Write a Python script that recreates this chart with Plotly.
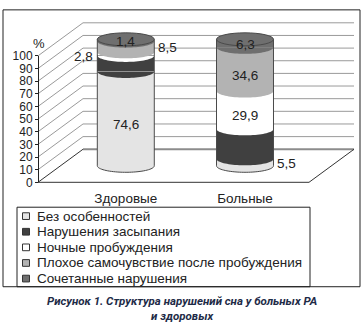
import numpy as np
import plotly.graph_objects as go

# ---- data -------------------------------------------------------------
categories = ["Здоровые", "Больные"]
series_names = [
    "Без особенностей",
    "Нарушения засыпания",
    "Ночные пробуждения",
    "Плохое самочувствие после пробуждения",
    "Сочетанные нарушения",
]
healthy = [74.6, 12.7, 2.8, 8.5, 1.4]
patients = [5.5, 23.7, 29.9, 34.6, 6.3]
y_ticks = list(range(0, 101, 10))
caption = "Рисунок 1. Структура нарушений сна у больных РА<br>и здоровых"

# ---- styles -----------------------------------------------------------
colors = ["#e4e4e4", "#404040", "#ffffff", "#b3b3b3", "#6f6f6f"]
# where each value label sits: centre of band, left or right of the cylinder
label_place = [
    ["inside", None, "left", "right", "inside"],
    ["right", None, "inside", "inside", "inside"],
]
FONT = "Liberation Sans"
TXT = "#222222"
OUTLINE = "#4a4a4a"
GRID = "#9a9a9a"

# ---- geometry (pixels of the page) -----------------------------------
W, H = 363, 333
PXU = 1.32          # px per percent
CX0, CXU = 125.8, 119.2   # px of category 0, px per category step
Y0PX = 165.75       # px of value 0 in the mid-depth plane
DX, DY = 22.5, 17.25       # half depth of the box
BAR_W = 0.478
ELL_B = 6.8 / PXU   # vertical radius of cylinder ellipses (data units)

xr = [-0.8, 1.95]
yr = [-14, 120]
xdom = [(CX0 + CXU * xr[0]) / W, (CX0 + CXU * xr[1]) / W]
ydom = [(H - (Y0PX - PXU * yr[0])) / H, (H - (Y0PX - PXU * yr[1])) / H]

ddx, ddy = DX / CXU, DY / PXU
xl_mid = (60.5 - CX0) / CXU
xr_mid = (331.5 - CX0) / CXU
FL, BL = xl_mid - ddx, xl_mid + ddx
FR, BR = xr_mid - ddx, xr_mid + ddx

front_px0 = Y0PX + DY
y2dom = [(H - front_px0) / H, (H - (front_px0 - PXU * 100)) / H]

fig = go.Figure()

# stacked cylinder bodies
data_by_cat = [healthy, patients]
for s, name in enumerate(series_names):
    fig.add_trace(go.Bar(
        x=[0, 1], y=[healthy[s], patients[s]], name=name,
        width=BAR_W, marker=dict(color=colors[s], line=dict(width=0)),
        showlegend=False, hoverinfo="skip",
    ))

# carrier for the front value axis
fig.add_trace(go.Scatter(x=[0], y=[0], xaxis="x", yaxis="y2", mode="markers",
                         marker=dict(opacity=0), showlegend=False, hoverinfo="skip"))

shapes = []


def line(x0, y0, x1, y1, color, width=1, layer="below"):
    shapes.append(dict(type="line", xref="x", yref="y", x0=x0, y0=y0, x1=x1, y1=y1,
                       line=dict(color=color, width=width), layer=layer))


# box walls: left-wall diagonals, back-wall grid, floor edges
for v in y_ticks:
    line(FL, v - ddy, BL, v + ddy, "#333333" if v == 0 else GRID)
for v in y_ticks[1:]:
    line(BL, v + ddy, BR, v + ddy, GRID)
line(BL, ddy, BR, ddy, "#8c8c8c", 2)
line(FL, -ddy, FR, -ddy, "#333333")
line(FR, -ddy, BR, ddy, "#333333")


def half_ellipse(cx, cy, closed):
    t = np.linspace(np.pi, 2 * np.pi, 40)
    xs = cx + BAR_W / 2 * np.cos(t)
    ys = cy + ELL_B * np.sin(t)
    p = "M" + "L".join(f"{a:.5f},{b:.5f}" for a, b in zip(xs, ys))
    return p + ("Z" if closed else "")


# curved fronts of each band, bottom to top
for i, vals in enumerate(data_by_cat):
    base = 0.0
    for s, v in enumerate(vals):
        shapes.append(dict(type="path", xref="x", yref="y", path=half_ellipse(i, base, True),
                           fillcolor=colors[s], line=dict(width=0), layer="above"))
        base += v
    total = base
    a = BAR_W / 2
    shapes.append(dict(type="path", xref="x", yref="y", path=half_ellipse(i, 0, False),
                       fillcolor="rgba(0,0,0,0)", line=dict(color=OUTLINE, width=1), layer="above"))
    line(i - a, 0, i - a, total, OUTLINE, 1, "above")
    line(i + a, 0, i + a, total, OUTLINE, 1, "above")
    shapes.append(dict(type="circle", xref="x", yref="y", x0=i - a, x1=i + a,
                       y0=total - ELL_B, y1=total + ELL_B, fillcolor=colors[-1],
                       line=dict(color=OUTLINE, width=1), layer="above"))

# value labels
annotations = []
for i, vals in enumerate(data_by_cat):
    base = 0.0
    for s, v in enumerate(vals):
        mid = base + v / 2
        place = label_place[i][s]
        txt = f"{v:.1f}".replace(".", ",")
        a = BAR_W / 2
        if place == "inside":
            top = s == len(vals) - 1
            annotations.append(dict(x=i, y=mid, xref="x", yref="y", text=txt, showarrow=False,
                                    xanchor="center", yshift=-1 if top else -6,
                                    font=dict(family=FONT, size=13.5, color=TXT)))
        elif place == "left":
            annotations.append(dict(x=i - a, y=mid, xref="x", yref="y", text=txt, showarrow=False,
                                    xanchor="right", xshift=-2, yshift=-3,
                                    font=dict(family=FONT, size=13.5, color=TXT)))
        elif place == "right":
            annotations.append(dict(x=i + a, y=mid, xref="x", yref="y", text=txt, showarrow=False,
                                    xanchor="left", xshift=2, yshift=-1,
                                    font=dict(family=FONT, size=13.5, color=TXT)))
        base += v

annotations.append(dict(x=31 / W, y=1 - 28.5 / H, xref="paper", yref="paper", text="%",
                        showarrow=False, font=dict(family=FONT, size=13, color=TXT)))

# legend panel
LX0, LX1, LY0, LY1 = 17, 310, 209, 292
shapes.append(dict(type="rect", xref="paper", yref="paper", x0=LX0 / W, x1=LX1 / W,
                   y0=1 - LY1 / H, y1=1 - LY0 / H, line=dict(color="#222222", width=1),
                   fillcolor="white", layer="above"))
row0, row_step = 218.3, 16.3
for s, name in enumerate(series_names):
    cy = row0 + row_step * s
    shapes.append(dict(type="rect", xref="paper", yref="paper", x0=22.5 / W, x1=29.5 / W,
                       y0=1 - (cy + 3.5) / H, y1=1 - (cy - 3.5) / H,
                       fillcolor=colors[s], line=dict(color="#333333", width=1), layer="above"))
    annotations.append(dict(x=34.5 / W, y=1 - cy / H, xref="paper", yref="paper", text=name,
                            showarrow=False, xanchor="left", yanchor="middle",
                            font=dict(family=FONT, size=13.5, color=TXT)))

# outer frame
shapes.append(dict(type="rect", xref="paper", yref="paper", x0=3 / W, x1=360 / W,
                   y0=1 - 292 / H, y1=1 - 3 / H, line=dict(color="#222222", width=1),
                   fillcolor="rgba(0,0,0,0)", layer="above"))

# caption
annotations.append(dict(x=181.5 / W, y=1 - 315 / H, xref="paper", yref="paper",
                        text=f"<b><i>{caption}</i></b>", showarrow=False,
                        xanchor="center", yanchor="middle",
                        font=dict(family="Roboto", size=11.5, color="#1e2b47")))

fig.update_layout(
    width=W, height=H, margin=dict(l=0, r=0, t=0, b=0),
    paper_bgcolor="white", plot_bgcolor="rgba(0,0,0,0)",
    barmode="stack", bargap=0, showlegend=False, hovermode=False,
    shapes=shapes, annotations=annotations,
    xaxis=dict(domain=xdom, range=xr, tickvals=[0, 1], ticktext=categories,
               showgrid=False, zeroline=False, showline=False, ticks="",
               ticklabelstandoff=5,
               tickfont=dict(family=FONT, size=13.5, color=TXT), fixedrange=True),
    yaxis=dict(domain=ydom, range=yr, visible=False, fixedrange=True),
    yaxis2=dict(domain=y2dom, range=[0, 100], anchor="free",
                position=(CX0 + CXU * FL) / W, side="left", tickvals=y_ticks,
                showgrid=False, zeroline=False, showline=True, linecolor="#222222",
                linewidth=1, ticks="outside", ticklen=3, tickcolor="#222222",
                tickfont=dict(family=FONT, size=12, color=TXT), fixedrange=True),
)

fig.write_html("out.html")
